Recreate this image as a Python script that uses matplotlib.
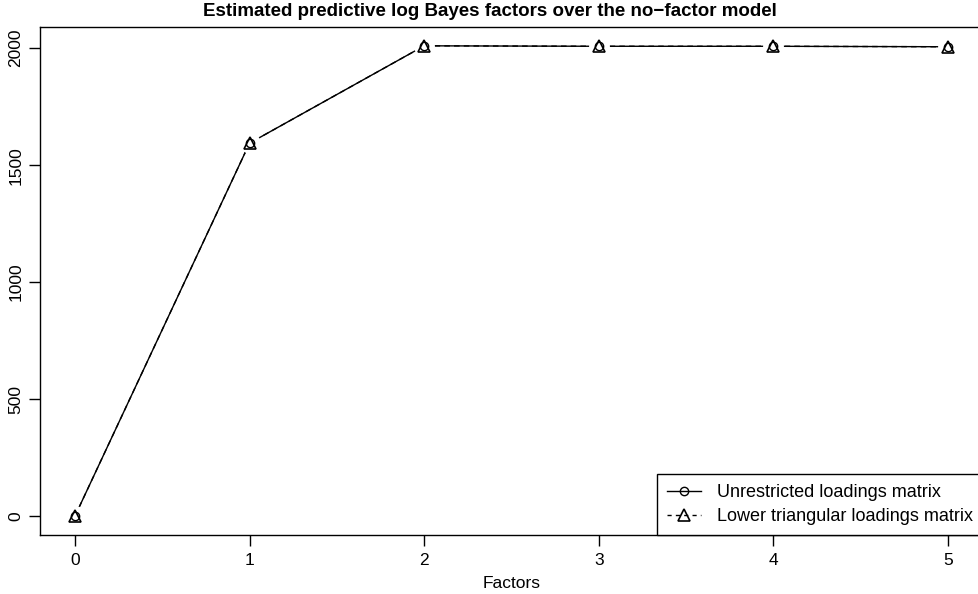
import matplotlib
matplotlib.use("Agg")
import matplotlib.pyplot as plt
from matplotlib.lines import Line2D

plt.rcParams['font.family'] = ['Liberation Sans', 'DejaVu Sans']

factors = [0, 1, 2, 3, 4, 5]
unrestricted = [0, 1594, 2010, 2008, 2008, 2006]
lower_tri = [0, 1594, 2010, 2008, 2008, 2006]
x_ticks = [0, 1, 2, 3, 4, 5]
y_ticks = [0, 500, 1000, 1500, 2000]
labels = ["Unrestricted loadings matrix", "Lower triangular loadings matrix"]

W, H = 979, 594
fig = plt.figure(figsize=(W / 100, H / 100), dpi=100)
left, right, bottom, top = 40, 983, 535, 27
ax = fig.add_axes([left / W, 1 - bottom / H, (right - left) / W, (bottom - top) / H])

ax.plot(factors, unrestricted, color='black', lw=1.0, ls='-', zorder=2)
ax.plot(factors, lower_tri, color='black', lw=1.0, ls=(0, (4, 3)), zorder=2)
# white halo to emulate R type="b" gaps
ax.plot(factors, unrestricted, ls='none', marker='o', ms=15, mfc='white', mec='none', zorder=3)
ax.plot(factors, unrestricted, ls='none', marker='o', ms=6, mfc='none', mec='black', mew=1.0, zorder=4)
ax.plot(factors, lower_tri, ls='none', marker='^', ms=8, mfc='none', mec='black', mew=1.2, zorder=5)

ax.set_xlim(-0.2, 5.2)
ymax = 2010
ax.set_ylim(-0.04 * ymax, ymax * 1.04)
ax.set_xticks(x_ticks)
ax.set_xticklabels([str(v) for v in x_ticks])
ax.set_yticks(y_ticks)
ax.set_yticklabels([str(v) for v in y_ticks], rotation=90, va='center')
ax.tick_params(axis='both', direction='out', length=8, width=1, labelsize=12.5, pad=5)
ax.tick_params(axis='y', pad=4)
for s in ax.spines.values():
    s.set_linewidth(1.0)
ax.set_xlabel("Factors", fontsize=12.5, labelpad=6)
fig.text(0.5, 1 - 12 / H, "Estimated predictive log Bayes factors over the no\u2212factor model",
         ha='center', va='center', fontsize=13.5, fontweight='bold')

h1 = Line2D([0], [0], color='black', lw=1.0, ls='-', marker='o', ms=6, mfc='none', mew=1.0)
h2 = Line2D([0], [0], color='black', lw=1.0, ls=(0, (3, 3)), marker='^', ms=8, mfc='none', mew=1.2)
leg = ax.legend([h1, h2], labels, loc='lower right', borderaxespad=0, fancybox=False,
                edgecolor='black', fontsize=13, handlelength=1.9, handletextpad=0.9,
                borderpad=0.55, labelspacing=0.4, framealpha=1)
leg.get_frame().set_linewidth(1.0)

fig.savefig("out.png", dpi=100)
